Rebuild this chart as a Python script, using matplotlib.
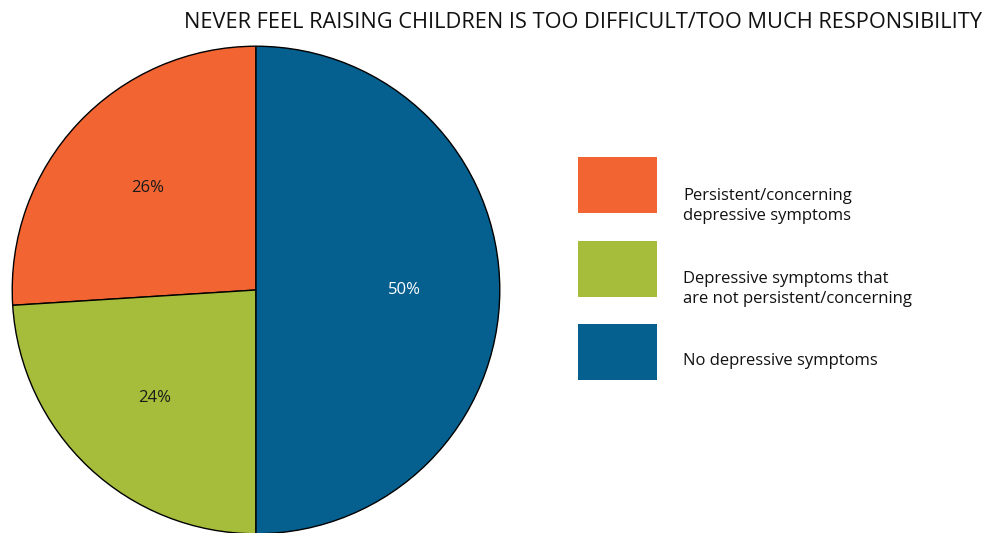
import matplotlib
matplotlib.use("Agg")
import matplotlib.pyplot as plt
from matplotlib.patches import Rectangle

title = "NEVER FEEL RAISING CHILDREN IS TOO DIFFICULT/TOO MUCH RESPONSIBILITY"
categories = [
    "Persistent/concerning\ndepressive symptoms",
    "Depressive symptoms that\nare not persistent/concerning",
    "No depressive symptoms",
]
shares = [26, 24, 50]
colors = ["#F26532", "#A5BD3A", "#05608F"]
label_colors = ["#1a1a1a", "#1a1a1a", "white"]

plt.rcParams["font.family"] = ["Open Sans", "DejaVu Sans"]

W, H = 1000, 533
fig = plt.figure(figsize=(W / 100, H / 100), dpi=100)

# pie axes: centre (256, 290) px, radius 245 px
cx, cy, r = 256, 290, 245
ax = fig.add_axes([(cx - r) / W, (H - cy - r) / H, 2 * r / W, 2 * r / H])
wedges, texts, autotexts = ax.pie(
    shares, colors=colors, startangle=90, counterclock=True,
    autopct="%d%%", pctdistance=0.61,
    wedgeprops=dict(edgecolor="black", linewidth=1.0),
    textprops=dict(fontsize=12),
)
for t, c in zip(autotexts, label_colors):
    t.set_color(c)
ax.set_xlim(-1.005, 1.005)
ax.set_ylim(-1.005, 1.005)
ax.set_aspect("equal")
ax.axis("off")

fig.text(583 / W, 1 - 22 / H, title, ha="center", va="center",
         fontsize=15.7, color="#111111")

# legend keys and labels
boxes = [(157, 213), (241, 297), (324, 380)]
text_y = [206, 289, 361]
for (y0, y1), ty, lab, col in zip(boxes, text_y, categories, colors):
    fig.patches.append(Rectangle((578 / W, 1 - y1 / H), 79 / W, (y1 - y0) / H,
                                 transform=fig.transFigure, facecolor=col,
                                 edgecolor="none"))
    fig.text(683 / W, 1 - ty / H, lab, ha="left", va="center",
             fontsize=12, color="#111111", linespacing=1.3)

fig.savefig("out.png", dpi=100)
